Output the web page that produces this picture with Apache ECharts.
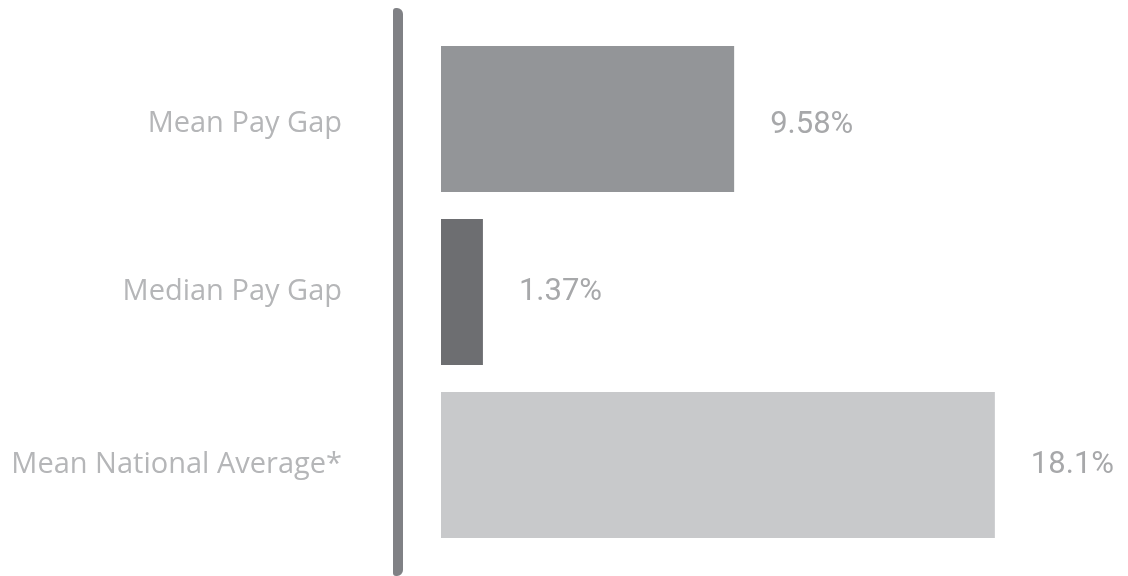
<!DOCTYPE html>
<html>
<head>
<meta charset="utf-8">
<script src="https://cdn.jsdelivr.net/npm/echarts@6/dist/echarts.min.js"></script>
<style>
  html, body { margin: 0; padding: 0; background: #ffffff; }
  #chart { width: 1128px; height: 576px; }
</style>
</head>
<body>
<div id="chart"></div>
<script>
// Gender pay gap figures (percent)
const categories = ['Mean Pay Gap', 'Median Pay Gap', 'Mean National Average*'];
const gapValues = [9.58, 1.37, 18.1];
const valueLabels = ['9.58%', '1.37%', '18.1%'];
const barColors = ['#939598', '#6d6e71', '#c8c9cb'];
// small vertical nudge per row of text
const labelNudge = [6, 0, 0];

const catFont = {
  color: '#b5b6b8',
  fontFamily: '"Open Sans", "Noto Sans", sans-serif',
  fontSize: 29
};

const chart = echarts.init(document.getElementById('chart'), null, { renderer: 'canvas' });

const option = {
  animation: false,
  backgroundColor: '#ffffff',
  grid: { left: 441, top: 32.5, width: 612, height: 519, containLabel: false },
  xAxis: {
    type: 'value',
    min: 0,
    max: 20,
    show: false
  },
  yAxis: {
    type: 'category',
    data: categories,
    inverse: true,
    axisLine: { show: false },
    axisTick: { show: false },
    splitLine: { show: false },
    axisLabel: Object.assign({
      margin: 99,
      formatter: (v, i) => labelNudge[i] ? '{low|' + v + '}' : '{n|' + v + '}',
      rich: {
        n: Object.assign({}, catFont),
        low: Object.assign({ padding: [10, 0, 0, 0] }, catFont)
      }
    }, catFont)
  },
  series: [{
    type: 'bar',
    barCategoryGap: '15.6%',
    data: gapValues.map((v, i) => ({
      value: v,
      itemStyle: { color: barColors[i] },
      label: { formatter: valueLabels[i], offset: [0, labelNudge[i]] }
    })),
    label: {
      show: true,
      position: 'right',
      distance: 36,
      color: '#a7a8aa',
      fontFamily: 'Roboto, sans-serif',
      fontSize: 31
    }
  }],
  graphic: [{
    // left bracket rule beside the category labels
    type: 'rect',
    left: 393,
    top: 8,
    shape: { width: 10, height: 568, r: [3, 6, 6, 3] },
    style: { fill: '#808185' },
    silent: true
  }]
};

chart.setOption(option);
</script>
</body>
</html>
